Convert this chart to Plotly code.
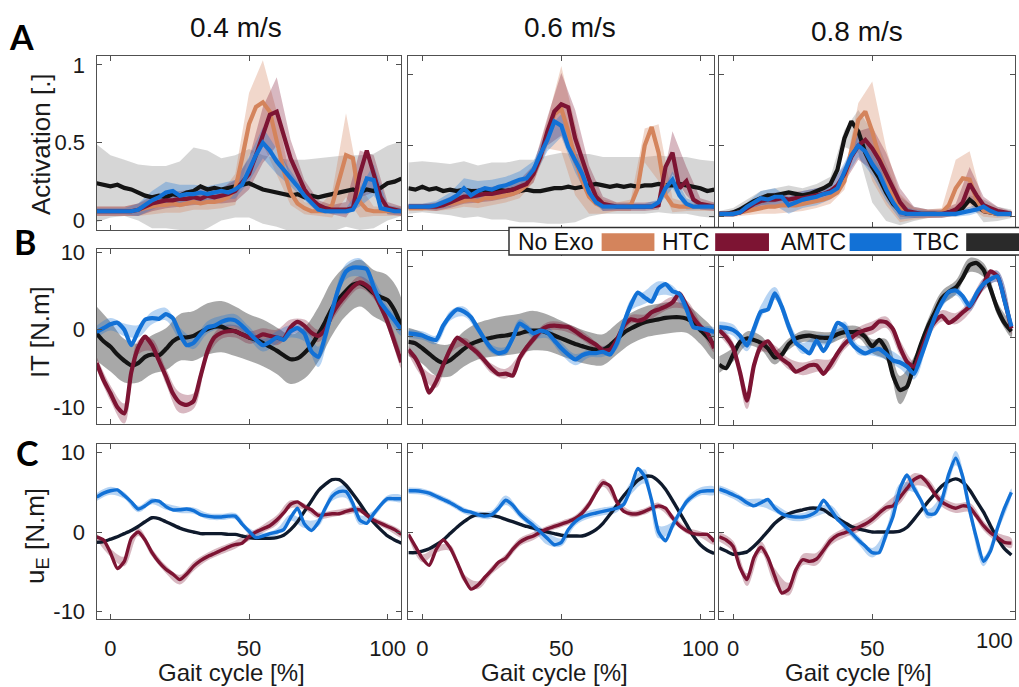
import numpy as np
import plotly.graph_objects as go
from plotly.subplots import make_subplots

W, H = 1019, 687
FONT = "Liberation Sans, Arial, sans-serif"

# ---------------- categories / labels ----------------
SPEEDS = ["0.4 m/s", "0.6 m/s", "0.8 m/s"]
CONDITIONS = ["No Exo", "HTC", "AMTC", "TBC"]
ROW_LETTERS = ["A", "B", "C"]
ROW_TITLES = ["Activation [.]", "IT [N.m]", "u<sub>E</sub> [N.m]"]
X_TICKS = [0, 50, 100]
Y_TICKS = [[0, 0.5, 1], [-10, 0, 10], [-10, 0, 10]]
Y_TICKTEXT = [["0", "0.5", "1"], ["-10", "0", "10"], ["-10", "0", "10"]]

# gait-cycle samples [%] (means every 2.5 %, spreads every 5 %)
X_WIDE = np.arange(-5.0, 105.01, 2.5)   # 0.4 and 0.6 m/s columns
X_CUT = np.arange(-5.0, 100.01, 2.5)    # 0.8 m/s column (cut by the page edge)

# ---------------- A: activation, 0.4 m/s ----------------
A1_NOEXO = [0.06,0.06,0.06,0.06,0.06,0.06,0.07,0.08,0.09,0.10,
            0.10,0.11,0.10,0.11,0.12,0.11,0.12,0.12,0.13,0.15,
            0.20,0.40,0.62,0.73,0.76,0.70,0.50,0.32,0.18,0.11,
            0.08,0.06,0.06,0.06,0.10,0.25,0.42,0.40,0.12,0.07,
            0.06,0.06,0.06,0.06,0.06]
A1_HTC = [0.06,0.06,0.06,0.06,0.06,0.06,0.07,0.09,0.11,0.12,
          0.13,0.13,0.14,0.14,0.15,0.14,0.16,0.15,0.16,0.17,
          0.19,0.25,0.30,0.42,0.55,0.68,0.70,0.55,0.40,0.30,
          0.20,0.14,0.10,0.08,0.07,0.07,0.07,0.08,0.30,0.45,
          0.30,0.15,0.08,0.07,0.06]
A1_AMTC = [0.06,0.06,0.06,0.06,0.06,0.06,0.07,0.10,0.13,0.15,
           0.18,0.19,0.16,0.17,0.17,0.18,0.17,0.18,0.19,0.18,
           0.20,0.23,0.33,0.42,0.50,0.45,0.38,0.33,0.27,0.22,
           0.16,0.11,0.07,0.06,0.06,0.06,0.06,0.07,0.15,0.27,
           0.26,0.08,0.07,0.06,0.06]
A1_TBC = [0.24,0.23,0.22,0.23,0.21,0.20,0.18,0.16,0.15,0.16,
          0.15,0.17,0.16,0.18,0.19,0.22,0.20,0.21,0.20,0.21,
          0.22,0.23,0.24,0.22,0.20,0.19,0.18,0.17,0.16,0.17,
          0.15,0.16,0.15,0.16,0.17,0.18,0.19,0.20,0.18,0.20,
          0.19,0.21,0.24,0.25,0.27]
A1_NOEXO_SD = [0.03,0.03,0.03,0.04,0.05,0.05,0.05,0.05,0.05,0.05,0.10,0.20,0.27,0.20,0.08,0.04,0.03,0.08,0.27,0.10,0.03,0.03,0.03]
A1_HTC_SD = [0.03,0.03,0.03,0.04,0.05,0.05,0.05,0.05,0.05,0.05,0.07,0.10,0.18,0.22,0.12,0.06,0.03,0.03,0.05,0.15,0.12,0.04,0.03]
A1_AMTC_SD = [0.02,0.02,0.02,0.04,0.06,0.07,0.07,0.06,0.05,0.05,0.06,0.08,0.10,0.08,0.05,0.03,0.02,0.02,0.02,0.06,0.10,0.03,0.02]
A1_TBC_SD = [0.25,0.20,0.18,0.18,0.20,0.20,0.22,0.28,0.25,0.20,0.20,0.22,0.22,0.22,0.23,0.24,0.25,0.24,0.23,0.24,0.24,0.24,0.24]

# ---------------- A: activation, 0.6 m/s ----------------
A2_NOEXO = [0.06,0.06,0.06,0.07,0.07,0.08,0.09,0.10,0.11,0.12,
            0.11,0.13,0.13,0.14,0.15,0.16,0.18,0.22,0.30,0.42,
            0.58,0.72,0.76,0.60,0.40,0.25,0.14,0.09,0.07,0.07,
            0.07,0.07,0.08,0.20,0.50,0.63,0.45,0.15,0.08,0.07,
            0.07,0.07,0.07,0.07,0.07]
A2_HTC = [0.07,0.07,0.07,0.07,0.07,0.08,0.10,0.12,0.14,0.14,
          0.15,0.16,0.16,0.17,0.18,0.19,0.21,0.23,0.30,0.42,
          0.60,0.74,0.79,0.77,0.55,0.40,0.26,0.14,0.09,0.08,
          0.07,0.07,0.07,0.07,0.07,0.07,0.08,0.35,0.45,0.20,
          0.25,0.12,0.09,0.08,0.07]
A2_AMTC = [0.07,0.07,0.07,0.07,0.08,0.10,0.12,0.15,0.20,0.15,
           0.18,0.20,0.19,0.21,0.22,0.24,0.26,0.27,0.33,0.44,
           0.54,0.67,0.64,0.49,0.39,0.30,0.17,0.10,0.07,0.07,
           0.07,0.07,0.07,0.07,0.07,0.07,0.10,0.20,0.26,0.15,
           0.09,0.07,0.07,0.07,0.07]
A2_TBC = [0.20,0.19,0.21,0.19,0.20,0.18,0.19,0.18,0.19,0.18,
          0.18,0.19,0.18,0.19,0.18,0.19,0.18,0.19,0.18,0.18,
          0.19,0.20,0.20,0.21,0.20,0.21,0.22,0.23,0.22,0.21,
          0.22,0.21,0.22,0.21,0.22,0.22,0.23,0.22,0.22,0.23,
          0.22,0.21,0.20,0.18,0.19]
A2_NOEXO_SD = [0.02,0.02,0.03,0.04,0.04,0.05,0.05,0.05,0.05,0.06,0.10,0.30,0.25,0.12,0.05,0.03,0.04,0.12,0.20,0.05,0.03,0.03,0.03]
A2_HTC_SD = [0.02,0.02,0.03,0.04,0.05,0.05,0.05,0.05,0.05,0.06,0.10,0.22,0.20,0.10,0.05,0.03,0.03,0.03,0.03,0.15,0.10,0.04,0.03]
A2_AMTC_SD = [0.02,0.02,0.03,0.05,0.07,0.07,0.07,0.06,0.06,0.06,0.08,0.08,0.08,0.05,0.03,0.02,0.02,0.02,0.02,0.06,0.04,0.02,0.02]
A2_TBC_SD = [0.18,0.18,0.18,0.18,0.20,0.18,0.20,0.20,0.22,0.22,0.24,0.25,0.24,0.22,0.20,0.20,0.20,0.20,0.20,0.20,0.20,0.20,0.20]

# ---------------- A: activation, 0.8 m/s ----------------
A3_NOEXO = [0.02,0.02,0.02,0.03,0.04,0.05,0.06,0.07,0.07,0.08,
            0.08,0.08,0.09,0.10,0.11,0.12,0.14,0.17,0.25,0.45,
            0.68,0.74,0.60,0.42,0.28,0.15,0.06,0.03,0.02,0.02,
            0.02,0.02,0.03,0.08,0.20,0.27,0.26,0.12,0.04,0.03,
            0.02,0.02,0.02]
A3_HTC = [0.02,0.02,0.02,0.03,0.06,0.09,0.11,0.12,0.12,0.13,
          0.12,0.13,0.13,0.14,0.15,0.16,0.18,0.22,0.30,0.42,
          0.50,0.54,0.48,0.40,0.30,0.20,0.10,0.04,0.03,0.02,
          0.02,0.02,0.02,0.03,0.05,0.10,0.23,0.15,0.08,0.06,
          0.04,0.03,0.02]
A3_AMTC = [0.02,0.02,0.02,0.03,0.07,0.10,0.13,0.12,0.14,0.14,
           0.08,0.10,0.12,0.13,0.14,0.16,0.17,0.20,0.32,0.43,
           0.50,0.46,0.37,0.30,0.19,0.10,0.03,0.02,0.02,0.02,
           0.02,0.02,0.02,0.02,0.02,0.03,0.04,0.05,0.07,0.04,
           0.02,0.02,0.02]
A3_TBC = [0.02,0.02,0.03,0.05,0.08,0.11,0.13,0.15,0.15,0.16,
          0.17,0.16,0.15,0.16,0.18,0.20,0.23,0.33,0.55,0.67,
          0.60,0.45,0.35,0.27,0.17,0.09,0.04,0.02,0.02,0.02,
          0.02,0.02,0.02,0.03,0.04,0.06,0.12,0.08,0.04,0.03,
          0.02,0.02,0.02]
A3_NOEXO_SD = [0.02,0.02,0.03,0.04,0.05,0.05,0.05,0.05,0.05,0.06,0.12,0.35,0.20,0.10,0.04,0.03,0.03,0.20,0.20,0.04,0.03,0.02]
A3_HTC_SD = [0.02,0.02,0.03,0.04,0.05,0.05,0.05,0.05,0.05,0.06,0.10,0.15,0.15,0.10,0.04,0.03,0.03,0.04,0.12,0.06,0.03,0.02]
A3_AMTC_SD = [0.02,0.02,0.03,0.05,0.06,0.06,0.06,0.06,0.05,0.06,0.08,0.08,0.08,0.05,0.03,0.02,0.02,0.02,0.03,0.03,0.02,0.02]
A3_TBC_SD = [0.02,0.03,0.04,0.05,0.05,0.05,0.05,0.05,0.05,0.06,0.15,0.25,0.20,0.10,0.05,0.03,0.03,0.03,0.03,0.08,0.05,0.03]

# ---------------- B: interaction torque ----------------
B1_HTC = [-4.3,-6.5,-8.2,-10.0,-10.8,-5.5,-2.3,-0.9,-2.0,-4.0,
          -6.0,-8.2,-9.4,-9.7,-9.2,-6.0,-2.8,-1.0,-0.4,-0.2,
          -0.2,-0.6,-1.0,-1.0,-0.6,-0.8,-1.0,-1.2,0.3,1.0,
          0.5,-0.4,-0.8,0.0,2.0,3.4,4.5,5.5,6.1,5.7,
          4.8,3.0,1.0,-1.6,-4.2]
B1_AMTC = [-0.3,0.2,0.7,0.9,0.0,-2.0,-0.2,1.3,1.5,1.4,
           2.0,1.5,-0.5,-2.0,-1.7,-0.6,0.3,0.5,1.0,1.3,
           1.2,0.5,-0.4,-1.3,-2.0,-1.6,-1.0,-1.3,-0.2,0.2,
           -0.5,-2.8,-3.5,-0.8,2.5,5.5,7.5,8.0,8.0,7.8,
           5.5,3.5,2.3,1.2,0.0]
B1_TBC = [-0.5,-1.5,-2.2,-3.2,-4.0,-4.6,-4.3,-3.5,-3.2,-3.3,
          -2.5,-1.5,-1.0,-1.0,-0.8,-0.3,0.1,0.4,0.4,0.0,
          -0.2,-0.6,-1.0,-1.3,-1.7,-2.2,-2.7,-3.3,-3.8,-3.7,
          -3.0,-2.0,-0.6,1.0,2.8,4.0,5.0,5.8,6.0,5.5,
          4.7,4.2,3.8,2.5,0.5]
B1_HTC_SD = [0.8,1.0,1.3,0.9,0.8,1.0,1.3,1.0,0.8,0.8,0.8,0.8,0.8,1.0,1.0,0.8,0.8,0.8,0.8,0.8,0.8,0.8,0.8]
B1_AMTC_SD = [0.8,0.8,0.8,0.8,0.8,0.8,0.8,0.8,0.8,0.8,0.8,0.8,0.8,0.8,0.8,1.0,1.3,1.0,1.0,1.2,1.0,0.8,0.8]
B1_TBC_SD = [3.5,3.2,2.8,2.5,2.5,2.7,3.0,3.2,3.3,3.3,3.2,3.0,3.0,3.0,3.2,3.3,3.5,3.5,3.2,3.0,3.0,3.2,3.5]

B2_HTC = [-1.8,-3.0,-5.0,-7.9,-6.3,-4.0,-1.8,-0.1,-0.7,-1.5,
          -2.3,-3.4,-4.5,-5.3,-5.2,-5.5,-3.0,-1.5,-0.3,0.9,
          1.5,1.6,1.5,1.4,0.8,0.1,-0.5,-1.1,-1.9,-1.8,
          -0.4,1.6,2.5,2.3,2.6,3.5,3.9,4.3,4.9,6.2,
          4.5,2.7,1.5,0.6,-1.6]
B2_AMTC = [0.5,0.4,0.2,-0.2,-0.4,1.6,3.0,3.9,3.6,2.8,
           1.2,-0.4,-1.7,-2.3,-2.0,-0.2,1.9,1.3,0.5,0.9,
           0.6,-0.5,-1.6,-2.5,-3.2,-2.6,-2.3,-2.3,-2.1,-2.5,
           -0.9,2.0,4.5,6.3,5.6,5.0,6.9,7.5,6.5,6.1,
           4.0,1.4,1.2,1.0,0.7]
B2_TBC = [-0.7,-0.9,-1.6,-2.4,-3.2,-3.7,-3.3,-2.5,-1.7,-1.0,
          -0.6,-0.3,-0.1,0.1,0.2,0.4,0.5,0.8,0.9,0.9,
          0.6,0.2,-0.2,-0.6,-1.0,-1.3,-1.6,-1.8,-1.8,-1.2,
          -0.3,0.6,1.2,1.7,2.1,2.3,2.5,2.7,2.8,2.8,
          2.6,2.0,1.0,0.0,-1.2]
B2_HTC_SD = [0.6,0.7,0.9,0.6,0.6,0.6,0.7,0.7,0.6,0.6,0.6,0.6,0.6,0.6,0.6,0.6,0.6,0.6,0.7,0.8,0.7,0.6,0.6]
B2_AMTC_SD = [0.6,0.6,0.6,0.7,0.7,0.6,0.6,0.6,0.6,0.7,0.8,0.9,0.8,0.6,0.7,0.8,0.8,0.9,1.0,0.8,0.6,0.6,0.6]
B2_TBC_SD = [2.0,2.2,2.3,2.3,2.5,2.6,2.7,2.8,2.8,2.8,2.6,2.5,2.4,2.3,2.2,2.2,2.2,2.2,2.2,2.2,2.0,2.0,2.0]

B3_HTC = [1.0,0.0,-1.5,-5.0,-9.0,-4.0,-1.3,-0.6,-2.0,-3.1,
          -3.8,-4.9,-4.5,-4.0,-4.0,-5.2,-3.9,-2.3,-1.0,-0.1,
          0.6,1.0,1.3,2.2,2.1,1.1,-1.5,-3.5,-4.2,-2.0,
          0.6,2.2,3.0,2.0,2.6,3.5,4.3,5.8,7.5,9.3,
          8.6,5.3,1.2]
B3_AMTC = [1.4,1.3,1.0,0.2,-1.2,1.2,3.6,3.9,6.2,4.3,
           1.5,-0.8,-1.6,-2.3,-0.5,-2.0,-0.3,2.0,1.5,-0.8,
           -1.8,-2.3,-1.9,-1.7,-2.4,-3.3,-3.6,-4.2,-5.2,-2.8,
           0.0,2.8,4.9,6.4,6.6,5.8,4.4,6.2,7.5,8.2,
           8.6,5.2,1.5]
B3_TBC = [-3.9,-4.4,-2.5,-0.7,-0.2,-0.4,-0.8,-1.6,-2.9,-2.5,
          -1.0,-0.2,0.1,0.2,0.0,-0.1,-0.1,0.4,0.7,0.7,
          0.7,0.0,-1.3,-0.4,-1.8,-5.5,-7.5,-7.0,-4.0,-1.0,
          1.5,3.5,5.5,6.4,7.0,8.4,10.2,10.5,9.5,6.8,
          4.0,2.0,0.8]
B3_HTC_SD = [0.8,0.8,1.2,0.8,0.8,0.8,0.9,0.9,0.8,0.8,0.8,0.9,0.8,1.0,0.8,0.8,0.8,0.8,0.9,0.9,0.8,0.8]
B3_AMTC_SD = [0.8,0.8,0.8,0.9,0.9,0.8,0.8,0.8,0.7,0.7,0.7,0.7,0.8,0.9,0.8,0.7,0.7,0.7,0.7,0.8,0.8,0.7]
B3_TBC_SD = [1.2,1.0,1.0,1.0,1.0,0.8,0.8,0.8,0.8,0.8,0.8,1.0,1.5,2.0,1.2,1.0,1.0,1.0,1.0,1.0,0.9,0.8]

# ---------------- C: exoskeleton torque ----------------
C1_HTC = [-0.6,-1.0,-2.6,-4.6,-3.7,-0.8,0.0,-1.0,-2.6,-3.8,
          -4.7,-5.3,-6.0,-5.3,-4.3,-3.6,-3.1,-2.7,-2.3,-1.9,
          -1.6,-1.4,-0.6,0.0,0.4,0.8,1.5,2.4,3.5,3.8,
          3.2,2.8,2.1,2.2,2.3,2.3,2.6,2.8,2.8,2.1,
          1.5,1.1,0.7,0.3,-0.3]
C1_AMTC = [4.4,4.9,5.2,5.3,4.6,3.8,2.9,3.3,3.9,3.9,
           3.2,2.8,2.8,2.9,2.7,2.2,2.0,1.9,1.9,2.0,
           2.0,1.0,0.1,-0.7,-0.5,-0.2,0.0,0.3,1.8,3.0,
           1.0,0.2,1.2,3.0,4.5,5.1,5.1,3.6,1.5,1.1,
           2.3,3.4,4.2,4.2,4.2]
C1_TBC = [-1.3,-1.2,-0.9,-0.6,-0.2,0.2,0.7,1.3,1.8,1.7,
          1.3,0.9,0.5,0.2,0.0,-0.2,-0.2,-0.2,-0.2,-0.3,
          -0.3,-0.5,-0.7,-0.8,-0.8,-0.8,-0.7,-0.4,0.3,1.3,
          2.6,3.9,5.2,6.0,6.6,6.6,5.9,4.8,3.6,2.3,
          1.2,0.3,-0.5,-1.0,-1.4]
C1_HTC_SD = [0.4,0.5,0.6,0.5,0.5,0.5,0.6,0.6,0.5,0.5,0.5,0.5,0.5,0.6,0.5,0.4,0.4,0.4,0.4,0.4,0.4,0.4,0.4]
C1_AMTC_SD = [0.5,0.5,0.4,0.4,0.4,0.4,0.4,0.4,0.4,0.4,0.4,0.4,0.4,0.4,0.4,0.5,0.5,0.6,0.8,0.6,0.4,0.4,0.4]

C2_HTC = [-0.3,-1.8,-3.3,-4.2,-2.2,-1.0,-2.0,-3.8,-5.8,-7.2,
          -6.7,-5.7,-4.8,-3.8,-3.3,-2.2,-1.3,-0.8,-0.5,0.0,
          0.4,0.7,1.0,1.3,1.7,2.4,3.5,5.0,6.2,5.8,
          3.8,2.6,2.3,2.3,2.6,3.0,3.3,3.0,1.8,0.8,
          0.2,-0.2,-0.3,-0.3,-1.2]
C2_AMTC = [5.2,5.2,5.1,4.9,4.5,4.1,3.7,3.2,2.7,2.5,
           2.2,2.0,2.2,3.0,4.0,3.4,2.3,1.5,0.8,0.0,
           -0.8,-1.6,-1.3,0.3,1.3,1.9,2.2,2.4,2.6,2.8,
           3.0,3.5,5.5,8.0,7.0,4.0,0.0,-1.1,0.8,2.4,
           3.8,4.6,5.1,5.2,5.2]
C2_TBC = [-2.6,-2.6,-2.4,-2.1,-1.6,-1.0,-0.2,0.6,1.3,1.9,
          2.2,2.2,2.1,1.9,1.6,1.3,1.0,0.7,0.5,0.2,
          0.0,-0.2,-0.4,-0.5,-0.5,-0.5,-0.2,0.3,1.1,2.2,
          3.4,4.6,5.6,6.5,7.0,7.0,6.4,5.4,4.0,2.5,
          1.0,-0.5,-1.6,-2.3,-2.7]
C2_HTC_SD = [0.4,0.5,0.4,0.4,0.5,0.5,0.5,0.5,0.5,0.5,0.4,0.4,0.4,0.5,0.5,0.4,0.4,0.4,0.4,0.4,0.4,0.4,0.4]
C2_AMTC_SD = [0.4,0.4,0.4,0.4,0.4,0.4,0.5,0.6,0.5,0.6,0.8,0.5,0.5,0.5,0.5,0.5,0.8,0.9,0.8,0.5,0.5,0.5,0.5]

C3_HTC = [-0.6,-1.0,-1.8,-4.5,-6.0,-3.2,-1.9,-3.2,-5.6,-7.7,
          -7.2,-4.8,-3.5,-3.7,-3.4,-2.3,-1.1,-0.4,-0.1,0.2,
          0.6,1.0,1.6,2.4,3.1,3.3,4.4,5.5,6.6,7.0,
          6.1,4.8,3.8,3.3,3.0,3.3,3.1,2.0,0.8,-0.1,
          -0.7,-1.3,-1.4]
C3_AMTC = [5.4,5.1,4.7,4.3,3.7,3.3,3.7,4.1,3.0,2.3,
           2.0,1.9,1.9,2.1,2.6,4.0,2.9,1.6,0.8,-0.1,
           -1.0,-1.8,-2.6,-2.6,-0.3,2.0,5.5,7.2,5.5,4.0,
           2.3,2.3,4.0,7.3,9.3,7.0,2.8,-0.8,-3.7,-2.4,
           0.5,3.0,5.0]
C3_TBC = [-2.0,-2.4,-2.8,-2.7,-2.5,-1.8,-0.9,0.1,1.1,1.8,
          2.3,2.6,2.8,3.0,3.0,2.8,2.2,1.7,1.2,0.7,
          0.4,0.2,0.0,0.0,0.0,0.0,0.1,0.6,1.6,2.7,
          3.8,4.8,5.8,6.4,6.7,6.3,5.3,3.9,2.5,0.8,
          -0.8,-2.1,-2.9]
C3_HTC_SD = [0.6,0.7,0.8,0.7,1.0,0.8,0.7,0.8,0.6,0.6,0.6,0.6,0.6,0.8,0.8,0.6,0.6,0.6,0.6,0.6,0.6,0.6]
C3_AMTC_SD = [0.5,0.5,0.5,0.5,0.5,0.5,0.5,0.6,0.5,0.5,0.5,0.6,0.8,0.6,0.5,0.6,0.8,0.9,1.0,0.6,0.5,0.5]

# ---------------- panel table built from the arrays above ----------------
PANELS = {
    (0, 0): {"No Exo": (A1_NOEXO, A1_NOEXO_SD), "HTC": (A1_HTC, A1_HTC_SD), "AMTC": (A1_AMTC, A1_AMTC_SD), "TBC": (A1_TBC, A1_TBC_SD)},
    (0, 1): {"No Exo": (A2_NOEXO, A2_NOEXO_SD), "HTC": (A2_HTC, A2_HTC_SD), "AMTC": (A2_AMTC, A2_AMTC_SD), "TBC": (A2_TBC, A2_TBC_SD)},
    (0, 2): {"No Exo": (A3_NOEXO, A3_NOEXO_SD), "HTC": (A3_HTC, A3_HTC_SD), "AMTC": (A3_AMTC, A3_AMTC_SD), "TBC": (A3_TBC, A3_TBC_SD)},
    (1, 0): {"HTC": (B1_HTC, B1_HTC_SD), "AMTC": (B1_AMTC, B1_AMTC_SD), "TBC": (B1_TBC, B1_TBC_SD)},
    (1, 1): {"HTC": (B2_HTC, B2_HTC_SD), "AMTC": (B2_AMTC, B2_AMTC_SD), "TBC": (B2_TBC, B2_TBC_SD)},
    (1, 2): {"HTC": (B3_HTC, B3_HTC_SD), "AMTC": (B3_AMTC, B3_AMTC_SD), "TBC": (B3_TBC, B3_TBC_SD)},
    (2, 0): {"HTC": (C1_HTC, C1_HTC_SD), "AMTC": (C1_AMTC, C1_AMTC_SD), "TBC": (C1_TBC, None)},
    (2, 1): {"HTC": (C2_HTC, C2_HTC_SD), "AMTC": (C2_AMTC, C2_AMTC_SD), "TBC": (C2_TBC, None)},
    (2, 2): {"HTC": (C3_HTC, C3_HTC_SD), "AMTC": (C3_AMTC, C3_AMTC_SD), "TBC": (C3_TBC, None)},
}

# ---------------- styles ----------------
LINE_COLOR = {"No Exo": "#D4845C", "HTC": "#7D1433", "AMTC": "#1271D6", "TBC": "#141414"}
BAND_COLOR = {"No Exo": "rgba(212,132,92,0.32)", "HTC": "rgba(125,20,51,0.30)",
              "AMTC": "rgba(18,113,214,0.30)", "TBC": "rgba(140,140,140,0.36)"}
TBC_BAND_B = "rgba(105,105,105,0.58)"
TBC_LINE_C = "#0F1A2C"
DRAW_ORDER = ["TBC", "No Exo", "HTC", "AMTC"]

# pixel geometry of the frames
COL_PX = [(97, 403), (410, 717), (722, 1019)]
ROW_PX = [[(48, 226), (48, 226), (48, 223)],
          [(245, 424), (247, 424), (252, 425)],
          [(444, 623), (444, 623), (444, 623)]]
X_RANGES = [(-5, 105), (-5, 105), (-5, 101.3)]
Y_RANGES = [[(-0.063, 1.057), (-0.097, 1.13), (-0.076, 1.13)],
            [(-12.2, 10.4), (-12.4, 12.2), (-12.5, 11.5)],
            [(-11.0, 11.1), (-11.0, 11.1), (-11.0, 11.1)]]

fig = make_subplots(rows=3, cols=3)

for (r, c), series in PANELS.items():
    xg = X_CUT if c == 2 else X_WIDE
    shape = "linear" if r == 0 else "spline"
    lw = 4.2 if r < 2 else 3.4
    # spread bands first
    for cond in DRAW_ORDER:
        if cond not in series:
            continue
        mean, sd = series[cond]
        assert len(mean) == len(xg), f"mean length {r},{c},{cond}: {len(mean)}"
        if sd is None:
            continue
        xb = xg[::2]
        mb = np.asarray(mean)[::2]
        s = np.asarray(sd)
        assert len(s) == len(xb), f"sd length {r},{c},{cond}: {len(s)}"
        up, lo = mb + s, mb - s
        fc = BAND_COLOR[cond]
        if cond == "TBC" and r == 1:
            fc = TBC_BAND_B
        fig.add_trace(go.Scatter(
            x=np.concatenate([xb, xb[::-1]]), y=np.concatenate([up, lo[::-1]]),
            mode="lines", fill="toself", fillcolor=fc, line=dict(width=0, shape=shape),
            hoverinfo="skip", showlegend=False), row=r + 1, col=c + 1)
    # mean lines
    for cond in DRAW_ORDER:
        if cond not in series:
            continue
        mean, _ = series[cond]
        col = LINE_COLOR[cond]
        if cond == "TBC" and r == 2:
            col = TBC_LINE_C
        fig.add_trace(go.Scatter(
            x=xg, y=mean, mode="lines", name=cond,
            line=dict(color=col, width=lw, shape=shape, smoothing=0.6),
            showlegend=False), row=r + 1, col=c + 1)

AX = dict(showline=True, linecolor="#505050", linewidth=1.2, mirror="ticks",
          ticks="inside", ticklen=5, tickwidth=1, tickcolor="#505050",
          showgrid=False, zeroline=False,
          tickfont=dict(family=FONT, size=22, color="#1a1a1a"))

for r in range(3):
    for c in range(3):
        idx = r * 3 + c + 1
        sfx = "" if idx == 1 else str(idx)
        x0, x1 = COL_PX[c]
        y0, y1 = ROW_PX[r][c]
        xt = X_TICKS if c < 2 else X_TICKS[:2]   # "100" of the cut column is written at the page edge
        fig.layout["xaxis" + sfx].update(
            domain=[x0 / W, x1 / W], range=list(X_RANGES[c]),
            tickvals=xt, ticktext=[str(v) for v in xt],
            showticklabels=(r == 2), ticklabelstandoff=9, **AX)
        fig.layout["yaxis" + sfx].update(
            domain=[1 - y1 / H, 1 - y0 / H], range=list(Y_RANGES[r][c]),
            tickvals=Y_TICKS[r], ticktext=Y_TICKTEXT[r],
            showticklabels=(c == 0), ticklabelstandoff=6, **AX)

ann = []
# column titles
for txt, (cx, cy) in zip(SPEEDS, [(237, 19), (572, 19), (860, 23)]):
    ann.append(dict(text=txt, x=cx / W, y=1 - cy / H, xref="paper", yref="paper",
                    showarrow=False, xanchor="center", yanchor="middle",
                    font=dict(family=FONT, size=28, color="#111")))
# panel letters
for txt, (cx, cy) in zip(ROW_LETTERS, [(22, 28), (25, 237), (28, 453)]):
    ann.append(dict(text="<b>" + txt + "</b>", x=cx / W, y=1 - cy / H, xref="paper", yref="paper",
                    showarrow=False, xanchor="center", yanchor="middle",
                    font=dict(family="Lato, Liberation Sans, sans-serif", size=34, color="#000")))
# y-axis titles
for txt, (cx, cy) in zip(ROW_TITLES, [(41, 138), (40, 330), (36, 538)]):
    ann.append(dict(text=txt, x=cx / W, y=1 - cy / H, xref="paper", yref="paper",
                    showarrow=False, textangle=-90, xanchor="center", yanchor="middle",
                    font=dict(family=FONT, size=26, color="#1a1a1a")))
# x-axis titles
for cx in [232, 557, 862]:
    ann.append(dict(text="Gait cycle [%]", x=cx / W, y=1 - 677 / H, xref="paper", yref="paper",
                    showarrow=False, xanchor="center", yanchor="middle",
                    font=dict(family=FONT, size=24, color="#1a1a1a")))
# "100" tick label of the last column, kept inside the page
ann.append(dict(text="100", x=1.0, y=1 - 645 / H, xref="paper", yref="paper",
                showarrow=False, xanchor="right", yanchor="middle",
                font=dict(family=FONT, size=22, color="#1a1a1a")))

# legend (label followed by swatch, as in the original)
shapes = [dict(type="rect", xref="paper", yref="paper", x0=511 / W, x1=1030 / W,
               y0=1 - 251 / H, y1=1 - 223 / H, fillcolor="white",
               line=dict(color="#303030", width=1.5), layer="above")]
LEG_TEXT_X = [518, 663, 782, 915]
LEG_SWATCH_X = [(604, 657), (718, 772), (853, 905), (970, 1030)]
for cond, tx, (sx0, sx1) in zip(CONDITIONS, LEG_TEXT_X, LEG_SWATCH_X):
    ann.append(dict(text=cond, x=tx / W, y=1 - 238 / H, xref="paper", yref="paper",
                    showarrow=False, xanchor="left", yanchor="middle",
                    font=dict(family=FONT, size=23, color="#111")))
    shapes.append(dict(type="rect", xref="paper", yref="paper", x0=sx0 / W, x1=sx1 / W,
                       y0=1 - 247 / H, y1=1 - 229 / H, fillcolor=LINE_COLOR[cond] if cond != "TBC" else "#2a2a2a",
                       line=dict(width=0), layer="above"))

fig.update_layout(width=W, height=H, margin=dict(l=0, r=0, t=0, b=0),
                  paper_bgcolor="white", plot_bgcolor="white",
                  annotations=ann, shapes=shapes, showlegend=False)

fig.write_html("out.html")
